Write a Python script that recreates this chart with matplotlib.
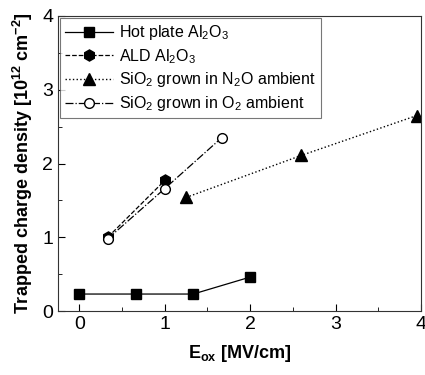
import matplotlib
matplotlib.use("Agg")
import matplotlib.pyplot as plt
from matplotlib.ticker import MultipleLocator

plt.rcParams['font.family'] = ['Liberation Sans', 'DejaVu Sans']
plt.rcParams['mathtext.fontset'] = 'custom'
plt.rcParams['mathtext.rm'] = 'Liberation Sans'
plt.rcParams['mathtext.it'] = 'Liberation Sans'
plt.rcParams['mathtext.bf'] = 'Liberation Sans:bold'

# data
hot_x = [0, 0.667, 1.333, 2.0]
hot_y = [0.23, 0.23, 0.23, 0.46]
ald_x = [0.333, 1.0]
ald_y = [1.0, 1.77]
n2o_x = [1.25, 2.6, 3.95]
n2o_y = [1.54, 2.11, 2.65]
o2_x = [0.333, 1.0, 1.667]
o2_y = [0.98, 1.66, 2.35]

labels = ['Hot plate Al$_2$O$_3$', 'ALD Al$_2$O$_3$',
          'SiO$_2$ grown in N$_2$O ambient', 'SiO$_2$ grown in O$_2$ ambient']

fig = plt.figure(figsize=(4.25, 3.75), dpi=100)
ax = fig.add_axes([58 / 425, 1 - 311 / 375, 363 / 425, 295 / 375])

ax.plot(hot_x, hot_y, '-', color='black', lw=0.9, marker='s', ms=7, label=labels[0])
ax.plot(ald_x, ald_y, '--', color='black', lw=0.9, marker='h', ms=8, label=labels[1])
ax.plot(n2o_x, n2o_y, ':', color='black', lw=1.0, marker='^', ms=8, label=labels[2])
ax.plot(o2_x, o2_y, '-.', color='black', lw=0.9, marker='o', ms=7, mfc='white', label=labels[3])

ax.set_xlim(-0.25, 4)
ax.set_ylim(0, 4)
ax.xaxis.set_major_locator(MultipleLocator(1))
ax.xaxis.set_minor_locator(MultipleLocator(0.5))
ax.yaxis.set_major_locator(MultipleLocator(1))
ax.yaxis.set_minor_locator(MultipleLocator(0.5))
ax.tick_params(which='both', direction='in', labelsize=14)
ax.tick_params(which='major', length=5)
ax.tick_params(which='minor', length=3)
for s in ax.spines.values():
    s.set_color('#333333')

ax.set_xlabel('E$_{\\mathbf{ox}}$ [MV/cm]', fontsize=13, fontweight='bold', labelpad=7)
ax.set_ylabel('Trapped charge density [10$^{\\mathbf{12}}$ cm$^{\\mathbf{-2}}$]',
              fontsize=13, fontweight='bold', labelpad=5)

leg = ax.legend(loc='upper left', fontsize=11.5, frameon=True, fancybox=False,
                edgecolor='#555555', borderaxespad=0.15, handlelength=3.0,
                labelspacing=0.3, borderpad=0.3, handletextpad=0.4)
leg.get_frame().set_linewidth(0.8)

fig.savefig('out.png', dpi=100)
